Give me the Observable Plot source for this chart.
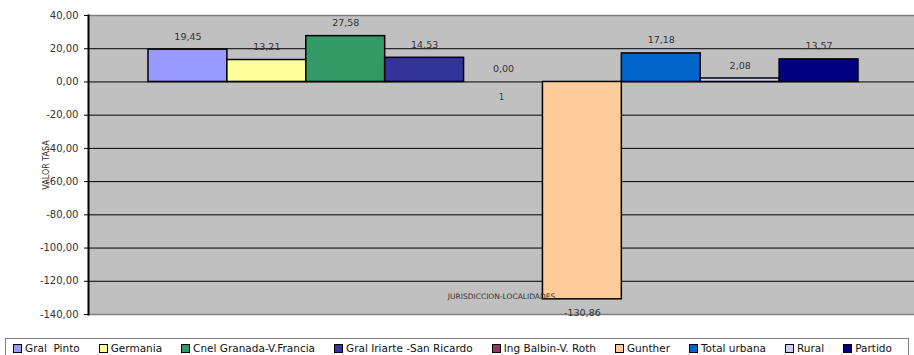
<!DOCTYPE html>
<html><head><meta charset="utf-8">
<script src="https://cdn.jsdelivr.net/npm/d3@7"></script>
<script src="https://cdn.jsdelivr.net/npm/@observablehq/plot@0.6"></script>
<style>
body{margin:0;background:#fff;font-family:"DejaVu Sans",sans-serif}
#wrap{position:relative;width:914px;height:355px;overflow:hidden}
#chart svg{display:block}
#legend{position:absolute;left:5px;top:338px;width:904px;height:30px;border:1px solid #808080;box-sizing:border-box;display:flex;align-items:flex-start;padding:3px 0 0 7px}
.item{display:flex;align-items:center;font-size:10.5px;color:#111;white-space:pre;margin-right:19px;line-height:12px}
.sw{width:7px;height:7px;border:1px solid #000;margin-right:3px}
</style></head><body>
<div id="wrap"><div id="chart"></div><div id="legend"></div></div>
<script>
const series = ["Gral  Pinto","Germania","Cnel Granada-V.Francia","Gral Iriarte -San Ricardo","Ing Balbin-V. Roth","Gunther","Total urbana","Rural","Partido"];
const values = [19.45,13.21,27.58,14.53,0.00,-130.86,17.18,2.08,13.57];
const colors = ["#9999ff","#ffff99","#339966","#333399","#993366","#ffcc99","#0066cc","#ccccff","#000080"];
const yTicks = [40,20,0,-20,-40,-60,-80,-100,-120,-140];
const categoryLabel = "1";
const xTitle = "JURISDICCION-LOCALIDADES";
const yTitle = "VALOR TASA";

const fmt = d => d.toFixed(2).replace(".", ",");
const data = series.map((s,i)=>({name:s, value:values[i]}));
const font = "'DejaVu Sans', sans-serif";

const chart = Plot.plot({
  width:914, height:332,
  marginLeft:88, marginRight:0, marginTop:15, marginBottom:18,
  style:{fontFamily:font, fontSize:"9.5px", background:"transparent", color:"#333", overflow:"visible"},
  x:{domain:series, range:[148,858], padding:0, round:false, axis:null},
  y:{domain:[-140,40], ticks:yTicks, tickFormat:fmt},
  color:{domain:series, range:colors},
  marks:[
    Plot.frame({fill:"#c0c0c0"}),
    Plot.ruleY(yTicks.filter(d=>d!==40 && d!==-140), {stroke:"#000", strokeWidth:1}),
    Plot.ruleY(yTicks.filter(d=>d===40 || d===-140), {stroke:"#808080", strokeWidth:1.5}),
    Plot.barY(data, {x:"name", y:"value", fill:"name", stroke:"#000", strokeWidth:1.5}),
    Plot.axisY({ticks:yTicks, tickFormat:fmt, tickSize:4, tickPadding:6, stroke:"#000", label:null, fill:"#333", fontSize:10}),
    Plot.frame({anchor:"left", stroke:"#000", strokeWidth:2}),
    Plot.text(data.filter(d=>d.value>=0), {x:"name", y:"value", text:d=>fmt(d.value), dy:-13, fill:"#333"}),
    Plot.text(data.filter(d=>d.value<0), {x:"name", y:"value", text:d=>fmt(d.value), dy:14, fill:"#333"}),
    Plot.text([0], {y:d=>d, text:()=>categoryLabel, dy:15, fill:"#333", fontSize:8}),
    Plot.text([-129.5], {y:d=>d, text:()=>xTitle, fill:"#333", fontSize:7.5}),
    Plot.text([yTitle], {frameAnchor:"left", dx:-42, rotate:-90, textAnchor:"middle", fill:"#333", fontSize:8})
  ]
});
document.getElementById("chart").appendChild(chart);

const legend = document.getElementById("legend");
series.forEach((s,i)=>{
  const it = document.createElement("div"); it.className="item";
  const sw = document.createElement("div"); sw.className="sw"; sw.style.background=colors[i];
  it.appendChild(sw);
  it.appendChild(document.createTextNode(s));
  legend.appendChild(it);
});
</script>
</body></html>
